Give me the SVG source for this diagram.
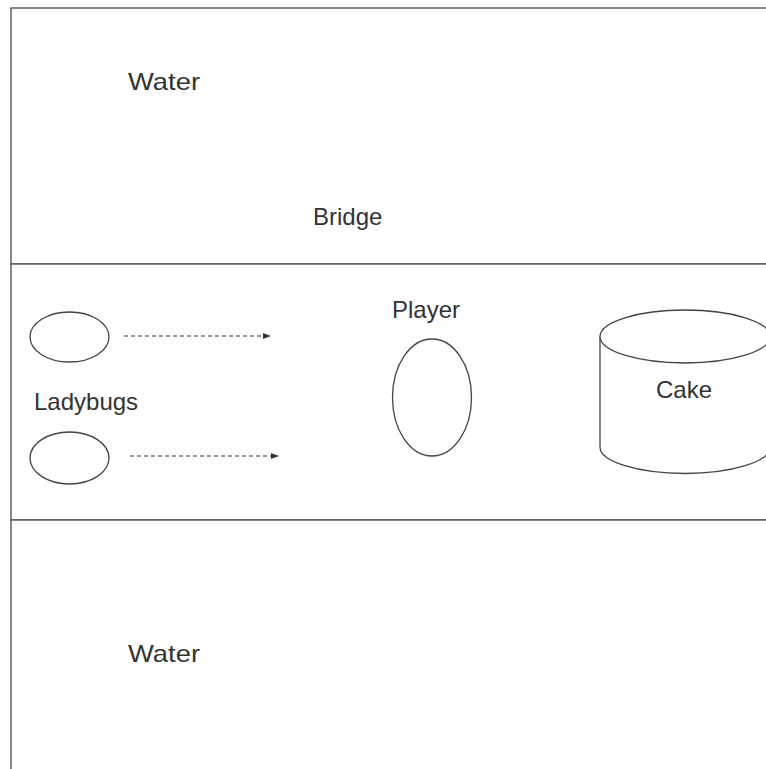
<svg xmlns="http://www.w3.org/2000/svg" width="766" height="769" viewBox="0 0 766 769">
<defs>
<style>
.zone{fill:#fff;stroke:#555;stroke-width:1.4}
.shape{fill:#fff;stroke:#444;stroke-width:1.3}
.lbl{font-family:"Liberation Sans",Arial,sans-serif;font-size:24px;fill:#333}
.conn{fill:none;stroke:#333;stroke-width:1;stroke-dasharray:4 3}
</style>
<marker id="arr" markerWidth="8" markerHeight="6" refX="7" refY="3" orient="auto" markerUnits="userSpaceOnUse">
<path d="M0,0 L8,3 L0,6 Z" fill="#333"/>
</marker>
</defs>
<rect width="766" height="769" fill="#fff"/>
<g id="water-top">
<rect class="zone" x="11" y="8" width="770" height="256"/>
<text class="lbl" x="128" y="90" textLength="72" lengthAdjust="spacingAndGlyphs">Water</text>
<text class="lbl" x="313" y="225">Bridge</text>
</g>
<g id="bridge">
<rect class="zone" x="11" y="264" width="770" height="256"/>
</g>
<g id="water-bottom">
<rect class="zone" x="11" y="520" width="770" height="260"/>
<text class="lbl" x="128" y="662" textLength="72" lengthAdjust="spacingAndGlyphs">Water</text>
</g>
<g id="ladybug1">
<ellipse class="shape" cx="69.5" cy="337" rx="39.5" ry="25"/>
</g>
<g id="ladybug2">
<ellipse class="shape" cx="69.5" cy="458" rx="39.5" ry="26"/>
</g>
<g id="ladybugs-label">
<text class="lbl" x="34" y="410">Ladybugs</text>
</g>
<g id="player">
<text class="lbl" x="392" y="318">Player</text>
<ellipse class="shape" cx="432" cy="397.5" rx="39.5" ry="58.5"/>
</g>
<g id="cake">
<path class="shape" d="M600,336.5 L600,447 A85,26.5 0 0 0 770,447 L770,336.5"/>
<ellipse class="shape" cx="685" cy="336.5" rx="85" ry="26.5"/>
<text class="lbl" x="656" y="398">Cake</text>
</g>
<g id="connectors">
<line class="conn" x1="124" y1="336" x2="270" y2="336" marker-end="url(#arr)"/>
<line class="conn" x1="130" y1="456" x2="278" y2="456" marker-end="url(#arr)"/>
</g>
</svg>
